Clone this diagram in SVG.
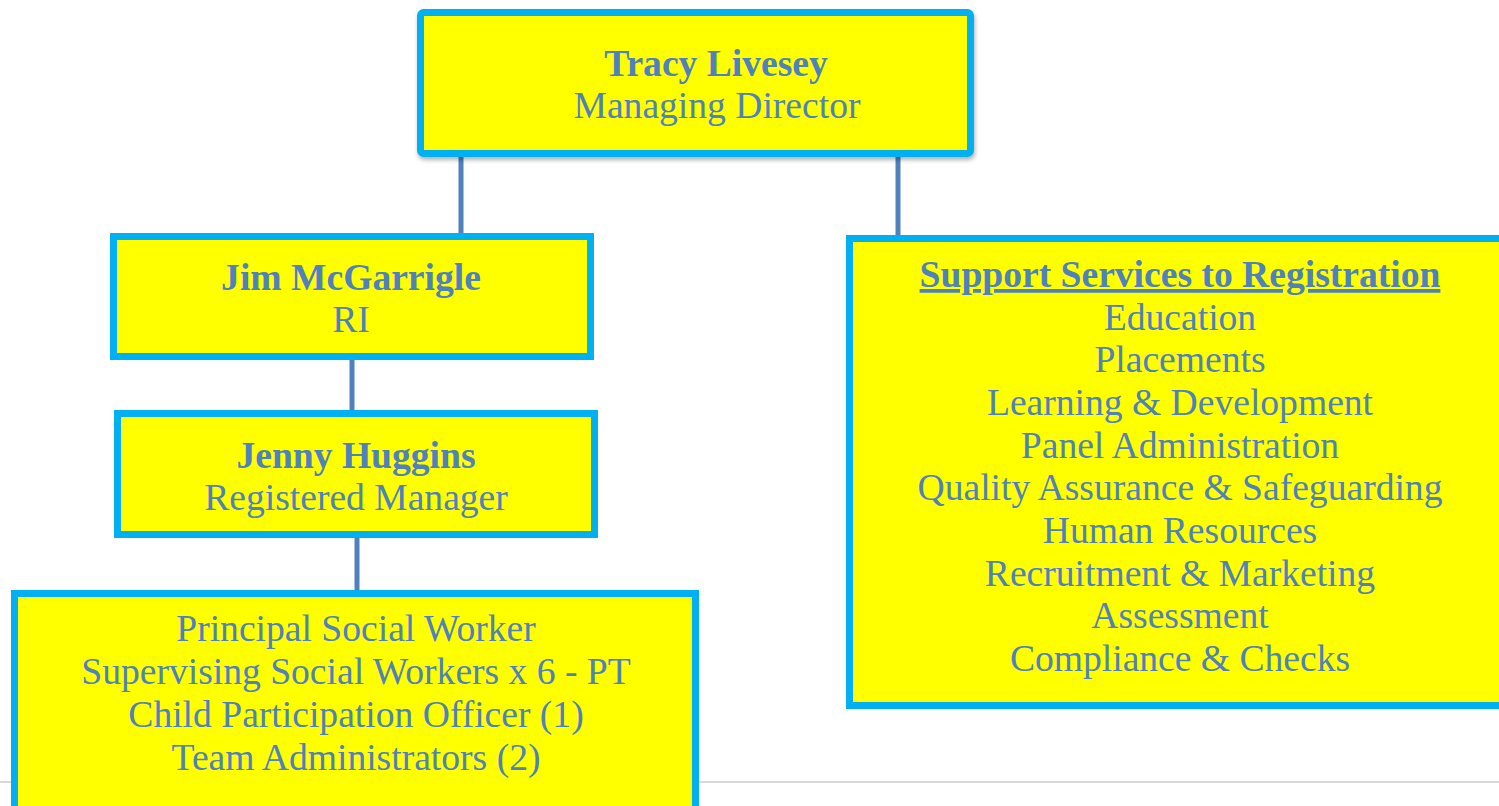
<svg xmlns="http://www.w3.org/2000/svg" width="1499" height="806" viewBox="0 0 1499 806">
<style>
.box{fill:#FFFF00;stroke:#00B0F0;stroke-width:7}
.t{font-family:"Liberation Serif","Times New Roman",serif;font-size:37.6px;fill:#4F81BD;text-anchor:middle}
.b{font-weight:bold}
.c{stroke:#4F81BD;stroke-width:5;fill:none}
</style>
<defs>
<filter id="sh" x="-5%" y="-5%" width="110%" height="115%">
<feDropShadow dx="1" dy="3" stdDeviation="2" flood-color="#000" flood-opacity="0.3"/>
</filter>
</defs>
<rect width="1499" height="806" fill="#fff"/>
<line x1="0" y1="782" x2="1499" y2="782" stroke="#D9D9D9" stroke-width="2"/>
<g id="connectors">
<line class="c" x1="461" y1="155" x2="461" y2="235"/>
<line class="c" x1="898" y1="155" x2="898" y2="237"/>
<line class="c" x1="352" y1="358" x2="352" y2="410"/>
<line class="c" x1="357" y1="536" x2="357" y2="592"/>
</g>
<g id="tracy">
<rect class="box" x="420.5" y="12.5" width="550" height="141" rx="3" filter="url(#sh)"/>
<text class="t b" x="716" y="76">Tracy Livesey</text>
<text class="t" x="717" y="118">Managing Director</text>
</g>
<g id="jim">
<rect class="box" x="113.5" y="236.5" width="477" height="120"/>
<text class="t b" x="351" y="290">Jim McGarrigle</text>
<text class="t" x="351" y="332">RI</text>
</g>
<g id="jenny">
<rect class="box" x="117.5" y="413.5" width="477" height="121"/>
<text class="t b" x="356" y="468">Jenny Huggins</text>
<text class="t" x="356" y="510">Registered Manager</text>
</g>
<g id="team">
<rect class="box" x="14.5" y="593.5" width="681" height="250"/>
<text class="t" x="356" y="641">Principal Social Worker</text>
<text class="t" x="356" y="684">Supervising Social Workers x 6 - PT</text>
<text class="t" x="356" y="727">Child Participation Officer (1)</text>
<text class="t" x="356" y="770">Team Administrators (2)</text>
</g>
<g id="support">
<rect class="box" x="849.5" y="238.5" width="700" height="467"/>
<text class="t b" x="1180" y="287" text-decoration="underline">Support Services to Registration</text>
<text class="t" x="1180" y="330">Education</text>
<text class="t" x="1180" y="372">Placements</text>
<text class="t" x="1180" y="415">Learning &amp; Development</text>
<text class="t" x="1180" y="458">Panel Administration</text>
<text class="t" x="1180" y="500">Quality Assurance &amp; Safeguarding</text>
<text class="t" x="1180" y="543">Human Resources</text>
<text class="t" x="1180" y="586">Recruitment &amp; Marketing</text>
<text class="t" x="1180" y="628">Assessment</text>
<text class="t" x="1180" y="671">Compliance &amp; Checks</text>
</g>
</svg>
